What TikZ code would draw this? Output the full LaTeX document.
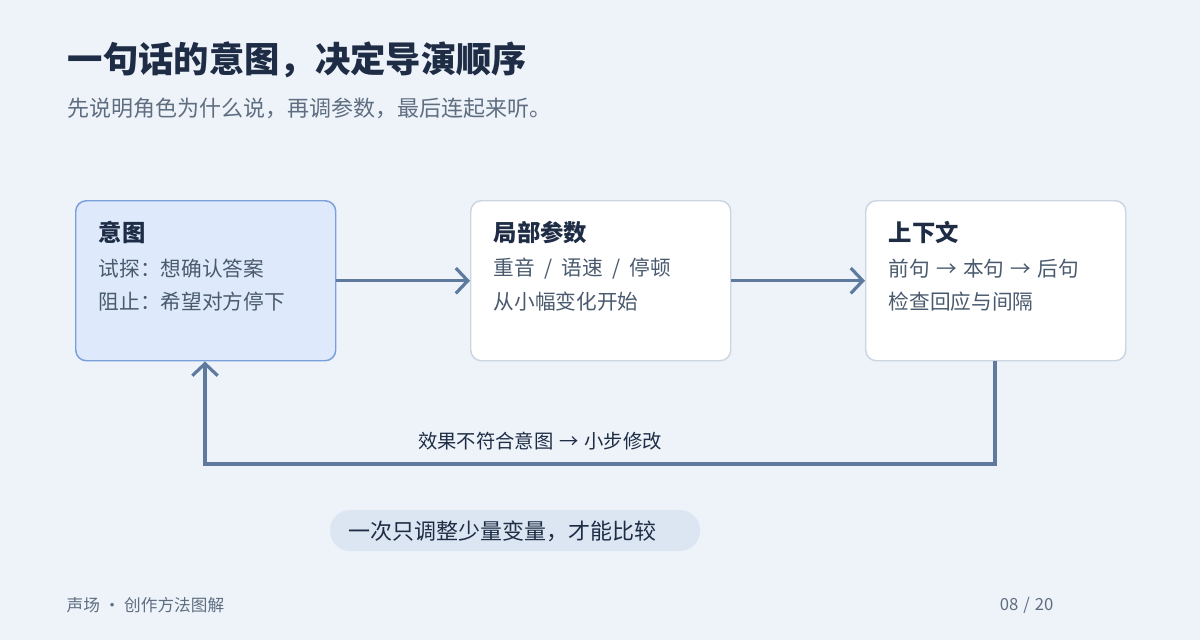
\documentclass[tikz,border=0pt]{standalone}
\usepackage{fontspec}
\setmainfont{Noto Sans CJK SC}
\usetikzlibrary{arrows.meta}
\definecolor{bg}{HTML}{EEF3FA}
\definecolor{ink}{HTML}{1E2D45}
\definecolor{sub}{HTML}{5E6E80}
\definecolor{body}{HTML}{4A5A6E}
\definecolor{line}{HTML}{5E7A9E}
\definecolor{hifill}{HTML}{DEE9FC}
\definecolor{hiedge}{HTML}{7A9FDB}
\definecolor{edge}{HTML}{CCD6E0}
\definecolor{pill}{HTML}{DCE6F2}
\newcommand{\sep}{\hspace{0.45em}/\hspace{0.45em}}
\newcommand{\arr}{\hspace{0.3em}→\hspace{0.3em}}
\begin{document}
\begin{tikzpicture}[x=0.75pt,y=-0.75pt,
  box/.style={draw=edge,fill=white,line width=1.1pt,rounded corners=8pt},
  hibox/.style={draw=hiedge,fill=hifill,line width=1.1pt,rounded corners=8pt},
  btitle/.style={anchor=west,text=ink,font=\fontsize{17.5pt}{20pt}\selectfont\bfseries},
  bline/.style={anchor=west,text=body,font=\fontsize{15.5pt}{18pt}\selectfont},
  conn/.style={draw=line,line width=2.4pt,-{Straight Barb[length=9pt,width=19pt,line width=2.4pt]}}]
\fill[bg] (0,0) rectangle (1200,640);
\node[anchor=west,text=ink,font=\fontsize{26.5pt}{30pt}\selectfont\bfseries] (title) at (63,60) {一句话的意图，决定导演顺序};
\node[anchor=west,text=sub,font=\fontsize{16.5pt}{19pt}\selectfont] (subt) at (63,108) {先说明角色为什么说，再调参数，最后连起来听。};
\node[hibox,minimum width=195pt,minimum height=120pt,anchor=north west] (b1) at (75,200) {};
\node[box,minimum width=195pt,minimum height=120pt,anchor=north west] (b2) at (470,200) {};
\node[box,minimum width=195pt,minimum height=120pt,anchor=north west] (b3) at (865,200) {};
\node[btitle] (t1) at (94,232) {意图};
\node[bline] (l11) at (94,269) {试探：想确认答案};
\node[bline] (l12) at (94,302) {阻止：希望对方停下};
\node[btitle] (t2) at (489,232) {局部参数};
\node[bline] (l21) at (489,269) {重音\sep 语速\sep 停顿};
\node[bline] (l22) at (489,302) {从小幅变化开始};
\node[btitle] (t3) at (884,232) {上下文};
\node[bline] (l31) at (884,269) {前句\arr 本句\arr 后句};
\node[bline] (l32) at (884,302) {检查回应与间隔};
\draw[conn] (b1.east) -- (b2.west);
\draw[conn] (b2.east) -- (b3.west);
\coordinate (c1) at (995,464);
\coordinate (c2) at (205,464);
\draw[conn] (b3.south -| c1) -- (c1) -- (c2) -- (c2 |- b1.south);
\node[text=ink,font=\fontsize{14.5pt}{17pt}\selectfont] (fb) at (540,441) {效果不符合意图\arr 小步修改};
\fill[pill,rounded corners=15pt] (330,510) rectangle (700,551);
\node[anchor=west,text=ink,font=\fontsize{16.5pt}{19pt}\selectfont] (note) at (344,531) {一次只调整少量变量，才能比较};
\node[anchor=west,text=sub,font=\fontsize{12.5pt}{15pt}\selectfont] (foot) at (62,605) {声场 · 创作方法图解};
\node[anchor=east,text=sub,font=\fontsize{12.5pt}{15pt}\selectfont] (page) at (1058,605) {08\hspace{0.3em}/\hspace{0.3em}20};
\end{tikzpicture}
\end{document}
